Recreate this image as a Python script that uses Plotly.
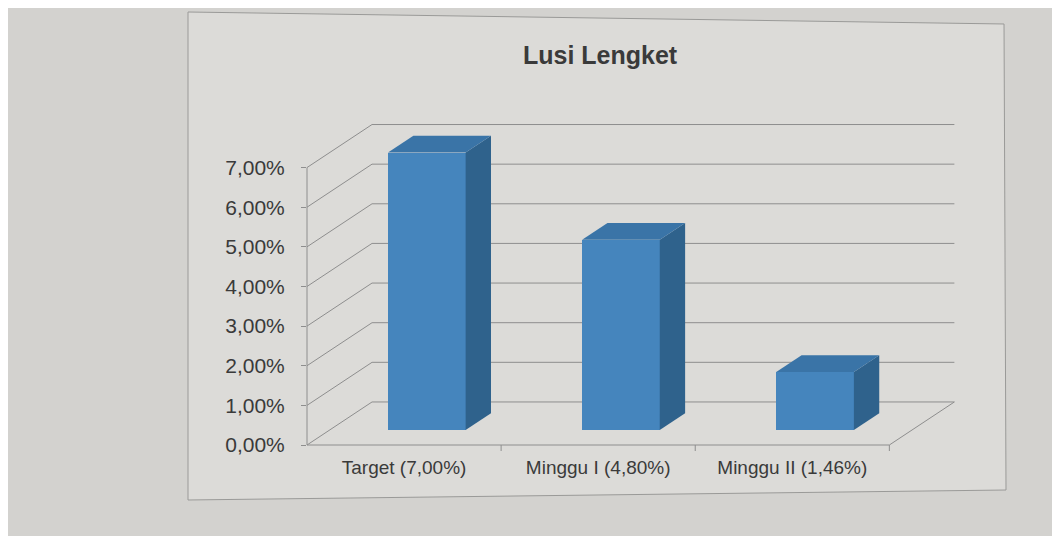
import plotly.graph_objects as go

# ---- data ----
categories = ["Target (7,00%)", "Minggu I (4,80%)", "Minggu II (1,46%)"]
values = [7.00, 4.80, 1.46]
y_ticks = [0, 1, 2, 3, 4, 5, 6, 7]
y_tick_labels = ["0,00%", "1,00%", "2,00%", "3,00%", "4,00%", "5,00%", "6,00%", "7,00%"]
title_text = "Lusi Lengket"

# ---- 3D oblique projection settings (axis units) ----
DX, DY = 0.335, 1.086          # full depth offset of back wall
F0, F1 = 0.35, 0.74            # bar depth (fraction of full depth)
BW = 0.4                        # bar width
XMIN, XMAX = -0.5, 2.9
YMIN, YMAX = 0.0, 8.2
PW, PH = 660, 325
OFF = 8                          # page body margin
ML, MT = 307 - OFF, 120 - OFF
MR = 1060 - ML - PW
MB = 536 - MT - PH

FRONT = "#4585bd"
SIDE = "#2f628c"
TOP = "#3a74a7"
GRID = "#8e8e8e"


def px(x):
    return (x - XMIN) / (XMAX - XMIN)


def py(y):
    return (y - YMIN) / (YMAX - YMIN)


def pg(xp, yp):
    """page pixel -> paper fraction"""
    return (xp - OFF - ML) / PW, (MT + PH - (yp - OFF)) / PH


shapes = []
# chart frame (slightly skewed as in the photo)
corners = [pg(188, 12), pg(1004, 24), pg(1006, 490), pg(188, 500)]
path = "M " + " L ".join(f"{a:.4f},{b:.4f}" for a, b in corners) + " Z"
shapes.append(dict(type="path", xref="paper", yref="paper", path=path,
                   fillcolor="#dcdbd8", line=dict(color="#9a9a98", width=1), layer="below"))


def seg(x0, y0, x1, y1, w=1):
    shapes.append(dict(type="line", xref="paper", yref="paper",
                       x0=px(x0), y0=py(y0), x1=px(x1), y1=py(y1),
                       line=dict(color=GRID, width=w), layer="below"))


n = len(categories)
left, right = -0.5, n - 0.5
for v in y_ticks:
    seg(left, v, left + DX, v + DY)
    if v > 0:
        seg(left + DX, v + DY, right + DX, v + DY)
seg(left + DX, DY, right + DX, DY)
seg(right, 0, right + DX, DY)
seg(left, 0, right, 0)
seg(left, 0, left, y_ticks[-1])
for b in range(1, n + 1):
    xb = b - 0.5
    shapes.append(dict(type="line", xref="paper", yref="paper",
                       x0=px(xb), x1=px(xb), y0=py(0), y1=py(0) - 6 / PH,
                       line=dict(color=GRID, width=1), layer="below"))

fig = go.Figure()

xs = [i + F0 * DX for i in range(n)]
fig.add_trace(go.Bar(x=xs, y=values, base=[F0 * DY] * n, width=BW,
                     marker=dict(color=FRONT, line=dict(width=0)),
                     hoverinfo="skip", showlegend=False))

dxd, dyd = (F1 - F0) * DX, (F1 - F0) * DY
for i, v in enumerate(values):
    x0 = xs[i] - BW / 2
    x1 = xs[i] + BW / 2
    b = F0 * DY
    t = v + F0 * DY
    fig.add_trace(go.Scatter(x=[x1, x1 + dxd, x1 + dxd, x1, x1],
                             y=[b, b + dyd, t + dyd, t, b],
                             fill="toself", fillcolor=SIDE, mode="lines",
                             line=dict(width=0, color=SIDE),
                             hoverinfo="skip", showlegend=False))
    fig.add_trace(go.Scatter(x=[x0, x1, x1 + dxd, x0 + dxd, x0],
                             y=[t, t, t + dyd, t + dyd, t],
                             fill="toself", fillcolor=TOP, mode="lines",
                             line=dict(width=0, color=TOP),
                             hoverinfo="skip", showlegend=False))

tx, ty = pg(600, 55)
fig.update_layout(
    width=1060, height=536,
    margin=dict(l=ML, r=MR, t=MT, b=MB, autoexpand=False),
    paper_bgcolor="#d3d2cf",
    plot_bgcolor="rgba(0,0,0,0)",
    shapes=shapes,
    font=dict(family="Liberation Sans, Arial, sans-serif", color="#3a3a3a"),
    xaxis=dict(range=[XMIN, XMAX], tickvals=list(range(n)), ticktext=categories,
               showgrid=False, zeroline=False, showline=False, ticks="",
               tickfont=dict(size=19), ticklabelstandoff=9, fixedrange=True),
    yaxis=dict(range=[YMIN, YMAX], tickvals=y_ticks, ticktext=y_tick_labels,
               showgrid=False, zeroline=False, showline=False,
               ticks="outside", ticklen=5, tickcolor=GRID,
               tickfont=dict(size=21), ticklabelstandoff=12, fixedrange=True),
    annotations=[dict(text="<b>" + title_text + "</b>", xref="paper", yref="paper",
                      x=tx, y=ty, xanchor="center", yanchor="middle", showarrow=False,
                      font=dict(size=25, color="#3a3a3a"))],
    bargap=0,
)

fig.write_html("out.html")
